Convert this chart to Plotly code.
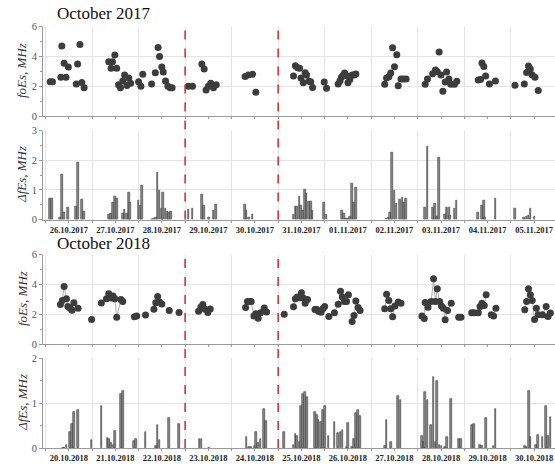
import plotly.graph_objects as go

W, H = 555, 466

days_2017 = ["26.10.2017", "27.10.2017", "28.10.2017", "29.10.2017", "30.10.2017", "31.10.2017",
             "01.11.2017", "02.11.2017", "03.11.2017", "04.11.2017", "05.11.2017"]
days_2018 = ["20.10.2018", "21.10.2018", "22.10.2018", "23.10.2018", "24.10.2018", "25.10.2018",
             "26.10.2018", "27.10.2018", "28.10.2018", "29.10.2018", "30.10.2018"]

# time in days from start of first date
foes17_t = [0.10, 0.15, 0.33, 0.35, 0.40, 0.44, 0.49, 0.66, 0.69, 0.74, 0.78, 0.83,
            1.36, 1.41, 1.44, 1.49, 1.53, 1.57, 1.61, 1.66, 1.70, 1.75, 1.79, 1.83,
            2.00, 2.05, 2.09, 2.28, 2.36, 2.42, 2.45, 2.50, 2.53, 2.58, 2.63, 2.68, 2.72,
            3.07, 3.16, 3.36, 3.41, 3.45, 3.50, 3.55, 3.61, 3.67,
            4.29, 4.36, 4.45, 4.52,
            5.33, 5.37, 5.42, 5.46, 5.49, 5.54, 5.58, 5.61, 5.66, 5.70, 5.74,
            5.99, 6.04, 6.29, 6.33, 6.36, 6.40, 6.43, 6.47, 6.50, 6.54, 6.59, 6.63, 6.67,
            7.29, 7.33, 7.38, 7.42, 7.46, 7.50, 7.55, 7.58, 7.64, 7.69, 7.75,
            8.16, 8.21, 8.32, 8.38, 8.42, 8.46, 8.50, 8.54, 8.59, 8.62, 8.67, 8.71, 8.79, 8.84,
            9.30, 9.35, 9.38, 9.42, 9.46, 9.54, 9.67,
            10.09, 10.29, 10.34, 10.38, 10.42, 10.46, 10.52, 10.59]
foes17_v = [2.3, 2.3, 2.6, 4.7, 3.55, 2.6, 3.3, 2.15, 3.5, 4.8, 2.25, 1.9,
            3.65, 3.2, 3.65, 4.1, 3.2, 2.1, 1.9, 2.35, 2.75, 2.05, 2.55, 2.2,
            2.3, 2.0, 2.8, 2.15, 2.9, 4.6, 4.0, 3.3, 2.95, 2.35, 2.0, 1.9, 1.9,
            2.0, 2.0, 3.5, 3.15, 1.75, 2.0, 2.2, 1.9, 2.1,
            2.65, 2.75, 2.8, 1.6,
            2.68, 3.38, 3.24, 3.2, 2.55, 2.24, 2.9, 2.75, 2.33, 2.3, 1.92,
            2.28, 1.86, 2.15, 2.37, 2.6, 2.75, 2.89, 2.7, 2.24, 2.46, 2.75, 2.75, 2.82,
            2.13, 2.55, 2.64, 2.89, 4.59, 3.31, 4.12, 2.04, 2.48, 2.48, 2.48,
            2.13, 2.48, 2.84, 3.09, 2.98, 4.3, 2.75, 1.66, 2.28, 2.95, 2.48, 2.13, 2.13, 2.33,
            2.42, 2.46, 3.56, 3.33, 2.68, 2.15, 2.35,
            2.06, 2.15, 2.93, 3.36, 3.15, 2.75, 2.6, 1.72]

dfes17_t = [0.10, 0.14, 0.31, 0.36, 0.40, 0.48, 0.66, 0.70, 0.78, 0.82,
            1.37, 1.41, 1.45, 1.49, 1.53, 1.66, 1.70, 1.75, 1.79, 1.82,
            2.00, 2.04, 2.08, 2.29, 2.33, 2.38, 2.41, 2.45, 2.50, 2.53, 2.58, 2.62, 2.66, 2.70,
            3.07, 3.16, 3.36, 3.41, 3.52, 3.61, 3.66,
            4.29, 4.32, 4.37, 4.45,
            5.33, 5.37, 5.41, 5.46, 5.49, 5.54, 5.58, 5.61, 5.66, 5.70, 5.74,
            5.99, 6.04, 6.37, 6.41, 6.46, 6.50, 6.55, 6.58, 6.63, 6.67,
            7.33, 7.37, 7.41, 7.45, 7.50, 7.54, 7.62, 7.67, 7.71, 7.75,
            8.16, 8.21, 8.33, 8.37, 8.42, 8.46, 8.58, 8.62, 8.67, 8.70, 8.79, 8.83,
            9.29, 9.38, 9.42, 9.45, 9.67,
            10.09, 10.29, 10.34, 10.38, 10.42, 10.51]
dfes17_v = [0.70, 0.70, 0.07, 1.52, 0.23, 0.40, 0.45, 1.93, 0.68, 0.27,
            0.17, 0.21, 0.59, 0.79, 0.72, 0.21, 0.35, 0.21, 0.90, 0.56,
            0.63, 0.47, 1.15, 0.01, 0.02, 0.07, 1.60, 0.99, 0.38, 0.90, 0.38, 0.28, 0.24, 0.27,
            0.35, 0.38, 0.85, 0.47, 0.07, 0.29, 0.50,
            0.50, 0.32, 0.07, 0.16,
            0.18, 0.43, 0.43, 0.79, 0.48, 0.32, 1.02, 0.89, 0.60, 0.60, 0.29,
            0.56, 0.18, 0.32, 0.20, 0.05, 0.05, 0.11, 1.20, 0.59, 1.08,
            0.03, 0.07, 0.24, 2.25, 0.99, 0.55, 0.69, 0.74, 0.59, 0.71,
            0.42, 2.46, 0.41, 0.54, 0.11, 2.10, 0.18, 0.41, 0.39, 0.12, 0.38, 0.63,
            0.24, 0.48, 0.64, 0.06, 0.71,
            0.38, 0.06, 0.11, 0.15, 0.38, 0.09]

# None marks a break in the connecting line
foes18_t = [0.32, 0.36, 0.40, 0.45, 0.48, 0.53, 0.57, 0.61, 0.70, None,
            0.99, None, 1.20, None,
            1.31, 1.36, 1.41, 1.45, 1.49, 1.53, 1.62, 1.66, None,
            1.91, 1.96, None, 2.15, None,
            2.33, 2.37, 2.41, 2.45, 2.50, None, 2.66, None, 2.87, None,
            3.29, 3.34, 3.38, 3.43, 3.49, 3.54, None,
            4.30, 4.34, 4.38, 4.42, 4.48, 4.52, 4.57, 4.62, 4.70, 4.75, None,
            5.13, None,
            5.33, 5.37, 5.41, 5.46, 5.50, 5.54, 5.58, 5.63, None,
            5.79, 5.83, 5.87, 5.92, 5.96, 6.00, None,
            6.09, None,
            6.21, 6.29, 6.34, 6.38, 6.42, 6.47, 6.51, None,
            6.59, 6.63, 6.67, 6.72, 6.76, None,
            7.29, 7.33, 7.38, 7.42, 7.46, 7.51, 7.58, 7.64, None,
            8.09, 8.14, 8.16, 8.22, 8.29, 8.34, 8.38, 8.42, 8.47, 8.51, 8.55, 8.59, 8.64, 8.72, None,
            8.88, 8.93, None,
            9.16, 9.21, None,
            9.30, 9.34, 9.38, 9.43, 9.47, None,
            9.58, 9.63, 9.68, None,
            10.30, 10.34, 10.38, 10.42, 10.46, 10.51, 10.55, 10.59, 10.68, 10.76, 10.80, 10.85]
foes18_v = [2.65, 2.92, 3.85, 3.03, 2.52, 2.4, 2.27, 2.76, 2.4, None,
            1.65, None, 2.75, None,
            3.03, 3.37, 3.08, 3.21, 3.03, 1.8, 2.99, 2.85, None,
            1.82, 1.88, None, 1.95, None,
            2.33, 2.76, 3.18, 2.81, 2.68, None, 2.25, None, 2.12, None,
            2.2, 2.48, 2.65, 2.33, 2.12, 2.35, None,
            2.45, 2.85, 2.85, 2.85, 1.88, 2.03, 1.72, 2.1, 2.42, 2.15, None,
            2.0, None,
            2.49, 3.03, 3.15, 3.1, 3.44, 3.08, 2.74, 2.99, None,
            2.31, 2.31, 2.18, 2.13, 2.36, 2.52, None,
            1.84, None,
            2.09, 2.67, 3.53, 3.15, 2.85, 2.85, 3.3, None,
            1.51, 1.91, 2.88, 2.45, 2.25, None,
            2.36, 3.33, 2.92, 2.36, 1.82, 2.54, 2.81, 2.74, None,
            1.87, 1.71, 2.79, 2.47, 2.85, 4.38, 2.85, 3.71, 2.85, 2.54, 2.4, 1.62, 2.25, 2.74, None,
            1.8, 1.8, None,
            2.09, 2.09, None,
            2.09, 2.52, 2.74, 2.58, 3.3, None,
            1.96, 1.87, 2.4, None,
            2.29, 2.85, 3.71, 3.3, 2.92, 1.64, 2.4, 1.96, 1.96, 2.52, 1.84, 2.07]

dfes18_t = [0.37, 0.40, 0.45, 0.53, 0.57, 0.61, 0.70,
            0.99, 1.20, 1.33, 1.37, 1.41, 1.46, 1.49, 1.62, 1.67,
            1.90, 1.95, 2.15, 2.37, 2.41, 2.45, 2.66, 2.87,
            3.31, 3.35, 3.51,
            4.32, 4.37, 4.41, 4.49, 4.53, 4.57, 4.62, 4.70, 4.74,
            5.13, 5.33, 5.37, 5.41, 5.46, 5.49, 5.54, 5.58, 5.62, 5.79, 5.83, 5.87, 5.92, 5.96, 6.00,
            6.08, 6.21, 6.29, 6.34, 6.38, 6.47, 6.50, 6.59, 6.63, 6.67, 6.72, 6.76,
            7.29, 7.33, 7.42, 7.58, 7.63,
            8.09, 8.13, 8.16, 8.21, 8.29, 8.34, 8.38, 8.42, 8.47, 8.51, 8.59, 8.63, 8.72, 8.88, 8.93,
            9.17, 9.21, 9.34, 9.38, 9.47, 9.63, 9.67,
            10.30, 10.34, 10.39, 10.42, 10.54, 10.59, 10.68, 10.76, 10.80, 10.85]
dfes18_v = [0.01, 0.01, 0.06, 0.36, 0.54, 0.79, 0.85,
            0.18, 0.93, 0.22, 0.20, 0.11, 0.07, 0.38, 1.19, 1.26,
            0.15, 0.20, 0.36, 0.05, 0.51, 0.18, 0.67, 0.53,
            0.21, 0.21, 0.01,
            0.24, 0.02, 0.02, 0.04, 0.35, 0.11, 0.21, 0.87, 0.60,
            0.36, 0.07, 0.32, 0.26, 0.14, 0.93, 1.19, 1.25, 1.13, 0.79, 0.73, 0.63, 0.58, 0.85, 0.93,
            0.26, 0.57, 0.33, 0.36, 0.39, 0.02, 0.56, 0.02, 0.19, 0.78, 0.84, 0.72,
            0.05, 0.63, 0.13, 1.16, 1.07,
            0.26, 0.13, 1.24, 1.07, 0.52, 1.58, 0.13, 1.49, 0.07, 0.04, 0.02, 0.24, 1.09, 0.19, 0.19,
            0.52, 0.53, 0.07, 0.04, 0.66, 0.05, 0.87,
            0.04, 0.02, 1.27, 0.24, 0.07, 0.28, 0.24, 0.93, 0.26, 0.70]

red_days = [3, 5]

SERIF = "Liberation Serif"
MARK = "#3c3c3c"


def pyp(p):
    return 1 - p / H


fig = go.Figure()

fig.add_trace(go.Scatter(x=foes17_t, y=foes17_v, mode="markers", xaxis="x", yaxis="y",
                         marker=dict(color=MARK, size=7), showlegend=False))
fig.add_trace(go.Bar(x=dfes17_t, y=dfes17_v, width=0.036, xaxis="x2", yaxis="y2",
                     marker=dict(color="#8a8a8a", line=dict(color="#3a3a3a", width=0.6)),
                     showlegend=False))
fig.add_trace(go.Scatter(x=foes18_t, y=foes18_v, mode="lines+markers", xaxis="x3", yaxis="y3",
                         connectgaps=False,
                         line=dict(color="#9a9a9a", width=0.8),
                         marker=dict(color=MARK, size=7), showlegend=False))
fig.add_trace(go.Bar(x=dfes18_t, y=dfes18_v, width=0.036, xaxis="x4", yaxis="y4",
                     marker=dict(color="#8a8a8a", line=dict(color="#3a3a3a", width=0.6)),
                     showlegend=False))

xdom = [43 / W, 1.0]
xr = [-0.054, 10.95]
mid = [i + 0.5 for i in range(11)]
bounds = list(range(0, 11))


def xax(anchor, labels):
    return dict(domain=xdom, range=xr, anchor=anchor, automargin=False,
                showline=True, linecolor="#9a9a9a", linewidth=1,
                tickmode="array", tickvals=mid, ticktext=labels if labels else [""] * 11,
                showticklabels=bool(labels), ticks="outside", ticklen=2, tickcolor="#9a9a9a",
                showgrid=False, zeroline=False,
                tickfont=dict(family=SERIF, size=8.5, color="#222", weight="bold"),
                minor=dict(tickmode="array", tickvals=bounds, showgrid=True, gridcolor="#e4e4e4",
                           gridwidth=1, ticks="outside", ticklen=2, tickcolor="#9a9a9a"))


def yax(anchor, dom, rng, dt):
    return dict(domain=dom, range=rng, anchor=anchor, automargin=False,
                showline=True, linecolor="#9a9a9a",
                tickmode="linear", tick0=0, dtick=dt, ticks="outside", ticklen=3,
                tickcolor="#9a9a9a", showgrid=True, gridcolor="#e4e4e4", zeroline=False,
                tickfont=dict(family=SERIF, size=10.5, color="#555"),
                minor=dict(tick0=0, dtick=dt / 2, ticks="outside", ticklen=2, tickcolor="#9a9a9a",
                           showgrid=False))


fig.update_layout(
    width=W, height=H, margin=dict(l=0, r=0, t=0, b=0, autoexpand=False),
    plot_bgcolor="white", paper_bgcolor="white", bargap=0, barmode="overlay",
    xaxis=xax("y", None),
    xaxis2=xax("y2", days_2017),
    xaxis3=xax("y3", None),
    xaxis4=xax("y4", days_2018),
    yaxis=yax("x", [pyp(116), pyp(26.7)], [0, 6], 2),
    yaxis2=yax("x2", [pyp(219.5), pyp(130.5)], [0, 3], 1),
    yaxis3=yax("x3", [pyp(344), pyp(254.5)], [0, 6], 2),
    yaxis4=yax("x4", [pyp(448), pyp(358)], [0, 2], 1),
)

for d in red_days:
    fig.add_shape(type="line", xref="x", yref="paper", x0=d, x1=d, y0=pyp(219.5), y1=pyp(25),
                  line=dict(color="#d9262a", width=1.5, dash="dash"))
    fig.add_shape(type="line", xref="x3", yref="paper", x0=d, x1=d, y0=pyp(448), y1=pyp(254),
                  line=dict(color="#d9262a", width=1.5, dash="dash"))

ann = [
    dict(text="October 2017", x=55 / W, y=pyp(13), xanchor="left", yanchor="middle",
         font=dict(family=SERIF, size=17, color="#111"), textangle=0),
    dict(text="October 2018", x=55 / W, y=pyp(243), xanchor="left", yanchor="middle",
         font=dict(family=SERIF, size=17, color="#111"), textangle=0),
    dict(text="<i>foEs, MHz</i>", x=22 / W, y=pyp(71), xanchor="center", yanchor="middle",
         font=dict(family=SERIF, size=13, color="#333"), textangle=-90),
    dict(text="<i>ΔfEs, MHz</i>", x=22 / W, y=pyp(175), xanchor="center", yanchor="middle",
         font=dict(family=SERIF, size=13, color="#333"), textangle=-90),
    dict(text="<i>foEs, MHz</i>", x=22 / W, y=pyp(299), xanchor="center", yanchor="middle",
         font=dict(family=SERIF, size=13, color="#333"), textangle=-90),
    dict(text="<i>ΔfEs, MHz</i>", x=22 / W, y=pyp(403), xanchor="center", yanchor="middle",
         font=dict(family=SERIF, size=13, color="#333"), textangle=-90),
]
for a in ann:
    fig.add_annotation(xref="paper", yref="paper", showarrow=False, **a)

fig.write_html("out.html", config={"displayModeBar": False},
               post_script="document.body.style.margin='0';")
